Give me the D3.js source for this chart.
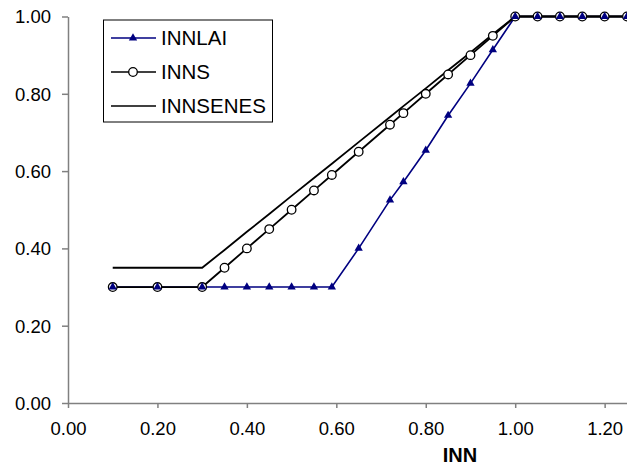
<!DOCTYPE html>
<html><head><meta charset="utf-8">
<script src="https://cdn.jsdelivr.net/npm/d3@7"></script>
<style>body{margin:0;background:#fff}svg{display:block}text{font-family:"Liberation Sans",Arial,sans-serif}</style>
</head><body><svg id="c" width="627" height="465"></svg>
<script>
const inn = [0.10,0.20,0.30,0.35,0.40,0.45,0.50,0.55,0.59,0.65,0.72,0.75,0.80,0.85,0.90,0.95,1.00,1.05,1.10,1.15,1.20,1.25];
const innlai = [0.30,0.30,0.30,0.30,0.30,0.30,0.30,0.30,0.30,0.40,0.525,0.572,0.654,0.744,0.827,0.914,1.00,1.00,1.00,1.00,1.00,1.00];
const inns = [0.30,0.30,0.30,0.35,0.40,0.45,0.50,0.55,0.59,0.65,0.72,0.75,0.80,0.85,0.90,0.95,1.00,1.00,1.00,1.00,1.00,1.00];
const innsenes = [0.35,0.35,0.35,0.396,0.443,0.489,0.536,0.582,0.619,0.675,0.740,0.768,0.814,0.861,0.907,0.954,1.00,1.00,1.00,1.00,1.00,1.00];
const xTicks = [0,0.2,0.4,0.6,0.8,1.0,1.2];
const yTicks = [0,0.2,0.4,0.6,0.8,1.0];
const seriesNames = ["INNLAI","INNS","INNSENES"];

const svg = d3.select("#c");
const x = d3.scaleLinear().domain([0,1.25]).range([68,627]);
const y = d3.scaleLinear().domain([0,1]).range([403,16.5]);
const axisColor = "#808080";

const gx = svg.append("g").attr("transform","translate(0,403)")
  .call(d3.axisBottom(x).tickValues(xTicks).tickFormat(d3.format(".2f")).tickSize(5).tickSizeOuter(0).tickPadding(14));
const gy = svg.append("g").attr("transform","translate(68,0)")
  .call(d3.axisLeft(y).tickValues(yTicks).tickFormat(d3.format(".2f")).tickSize(6).tickSizeOuter(0).tickPadding(11));
[gx,gy].forEach(g=>{
  g.select(".domain").attr("stroke",axisColor).attr("stroke-width",1.5);
  g.selectAll(".tick line").attr("stroke",axisColor).attr("stroke-width",1.5);
  g.selectAll(".tick text").attr("fill","#000").style("font-size","18.5px").style("font-family","'Liberation Sans',Arial,sans-serif");
});
gy.selectAll(".tick text").attr("dy","0.35em");

svg.append("text").attr("x",460).attr("y",462).attr("text-anchor","middle")
  .style("font-size","20px").style("font-weight","bold").text("INN");

const line = d3.line().x(d=>x(d[0])).y(d=>y(d[1]));
const plot = svg.append("g");
const dLai = inn.map((v,i)=>[v,innlai[i]]);
const dS = inn.map((v,i)=>[v,inns[i]]);
const dSen = inn.map((v,i)=>[v,innsenes[i]]);

plot.append("path").datum(dLai).attr("d",line).attr("fill","none").attr("stroke","#000080").attr("stroke-width",1.6);
plot.append("path").datum(dS).attr("d",line).attr("fill","none").attr("stroke","#000").attr("stroke-width",1.8);
plot.append("path").datum(dSen).attr("d",line).attr("fill","none").attr("stroke","#000").attr("stroke-width",1.8);

const tri = d3.symbol().type(d3.symbolTriangle).size(30);
plot.selectAll("circle.s").data(dS).join("circle").attr("class","s")
  .attr("cx",d=>x(d[0])).attr("cy",d=>y(d[1])).attr("r",4.3)
  .attr("fill","#fff").attr("stroke","#000").attr("stroke-width",1.3);
plot.selectAll("path.t").data(dLai).join("path").attr("class","t")
  .attr("d",tri).attr("transform",d=>`translate(${x(d[0])},${y(d[1])})`).attr("fill","#000080");

const lg = svg.append("g");
lg.append("rect").attr("x",103.5).attr("y",20).attr("width",169).attr("height",102)
  .attr("fill","#fff").attr("stroke","#000").attr("stroke-width",1);
const rows = [38,72,106];
const styles = [{c:"#000080",m:"tri"},{c:"#000",m:"circ"},{c:"#000",m:null}];
seriesNames.forEach((n,i)=>{
  const ry = rows[i];
  lg.append("line").attr("x1",111).attr("x2",156).attr("y1",ry).attr("y2",ry)
    .attr("stroke",styles[i].c).attr("stroke-width",1.6);
  if(styles[i].m==="tri") lg.append("path").attr("d",tri).attr("transform",`translate(133,${ry})`).attr("fill","#000080");
  if(styles[i].m==="circ") lg.append("circle").attr("cx",133).attr("cy",ry).attr("r",4.3).attr("fill","#fff").attr("stroke","#000").attr("stroke-width",1.3);
  lg.append("text").attr("x",161).attr("y",ry).attr("dy","0.35em").style("font-size","20.5px").text(n);
});
</script></body></html>
